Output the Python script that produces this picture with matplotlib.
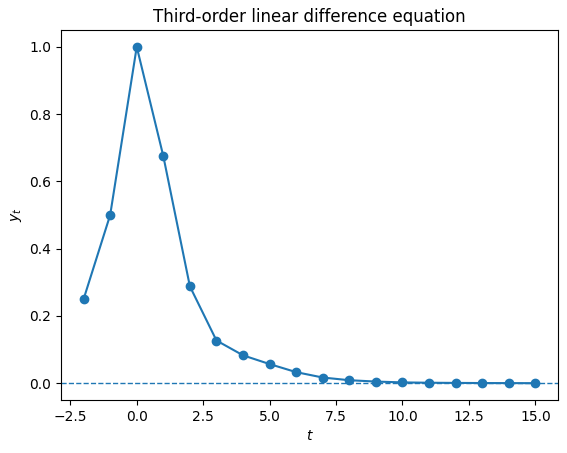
import numpy as np
import matplotlib
matplotlib.use("Agg")
from matplotlib import pyplot as plt

# values
t = np.arange(-2, 16)
y = [0.25, 0.5, 1.0, 0.675, 0.288, 0.127, 0.083, 0.057, 0.033, 0.017,
     0.009, 0.005, 0.0025, 0.0015, 0.001, 0.0006, 0.0004, 0.0002]

fig, ax = plt.subplots(figsize=(5.67, 4.53), dpi=100)
fig.subplots_adjust(left=0.1076, right=0.984, top=0.9338, bottom=0.117)

ax.plot(t, y, 'o-')
ax.axhline(0, linestyle='--', linewidth=1)
ax.set_xlabel('$t$')
ax.set_ylabel('$y_t$')
ax.set_title('Third-order linear difference equation')

fig.savefig('out.png', dpi=100)
